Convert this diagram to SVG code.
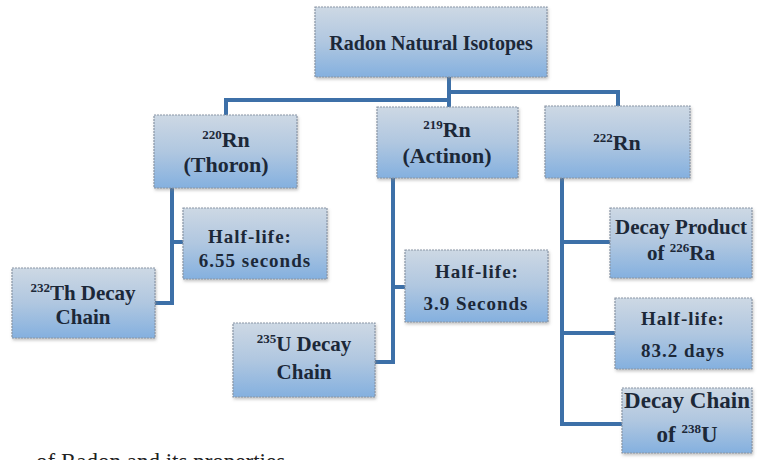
<svg xmlns="http://www.w3.org/2000/svg" width="758" height="460" viewBox="0 0 758 460">
<defs>
<linearGradient id="g" x1="0" y1="0" x2="0" y2="1">
<stop offset="0" stop-color="#cdd8e4"/>
<stop offset="0.5" stop-color="#b0c7e0"/>
<stop offset="1" stop-color="#84b0df"/>
</linearGradient>
<filter id="sh" x="-10%" y="-10%" width="130%" height="140%">
<feDropShadow dx="1" dy="2" stdDeviation="1.5" flood-color="#7a7a7a" flood-opacity="0.45"/>
</filter>
</defs>
<style>
.box{fill:url(#g);stroke:#8a96a6;stroke-width:1.2;stroke-dasharray:2 1;filter:url(#sh)}
.t{font-family:"Liberation Serif","Times New Roman",serif;font-weight:bold;fill:#1c2838;text-anchor:middle}
.c{fill:none;stroke:#3d70a8;stroke-width:4}
.sup{font-size:13px}
</style>
<rect width="758" height="460" fill="#ffffff"/>
<g id="connectors">
<path class="c" d="M449 77 V107"/>
<path class="c" d="M226 115 V100 H449"/>
<path class="c" d="M618 106 V92 H449"/>
<path class="c" d="M172 188 V303 H155 M172 242 H183"/>
<path class="c" d="M393 178 V362 H375 M393 287 H405"/>
<path class="c" d="M562 178 V424 H622 M562 242 H610 M562 333 H615"/>
</g>
<g id="root">
<rect class="box" x="315" y="7" width="232" height="70"/>
<text class="t" x="431" y="50" font-size="20">Radon Natural Isotopes</text>
</g>
<g id="thoron">
<rect class="box" x="154" y="115" width="143" height="73"/>
<text class="t" x="226" y="147" font-size="22"><tspan class="sup" dy="-8">220</tspan><tspan dy="8">Rn</tspan></text>
<text class="t" x="226" y="172" font-size="22">(Thoron)</text>
</g>
<g id="actinon">
<rect class="box" x="377" y="107" width="141" height="71"/>
<text class="t" x="447" y="137" font-size="22"><tspan class="sup" dy="-8">219</tspan><tspan dy="8">Rn</tspan></text>
<text class="t" x="447" y="163" font-size="22">(Actinon)</text>
</g>
<g id="rn222">
<rect class="box" x="545" y="106" width="145" height="72"/>
<text class="t" x="617" y="150" font-size="22"><tspan class="sup" dy="-8">222</tspan><tspan dy="8">Rn</tspan></text>
</g>
<g id="halflife-thoron">
<rect class="box" x="183" y="208" width="144" height="71"/>
<text class="t" x="250" y="243" font-size="19" letter-spacing="1">Half-life:</text>
<text class="t" x="255" y="267" font-size="19" letter-spacing="1">6.55 seconds</text>
</g>
<g id="th232">
<rect class="box" x="12" y="268" width="143" height="70"/>
<text class="t" x="83" y="300" font-size="21"><tspan class="sup" dy="-8">232</tspan><tspan dy="8">Th Decay</tspan></text>
<text class="t" x="83" y="324" font-size="21">Chain</text>
</g>
<g id="halflife-actinon">
<rect class="box" x="405" y="250" width="143" height="72"/>
<text class="t" x="477" y="278" font-size="19" letter-spacing="1">Half-life:</text>
<text class="t" x="476" y="310" font-size="19" letter-spacing="1">3.9 Seconds</text>
</g>
<g id="u235">
<rect class="box" x="233" y="323" width="142" height="74"/>
<text class="t" x="304" y="351" font-size="21"><tspan class="sup" dy="-8">235</tspan><tspan dy="8">U Decay</tspan></text>
<text class="t" x="304" y="379" font-size="21">Chain</text>
</g>
<g id="ra226">
<rect class="box" x="610" y="208" width="142" height="70"/>
<text class="t" x="681" y="234" font-size="21">Decay Product</text>
<text class="t" x="681" y="260" font-size="21">of <tspan class="sup" dy="-8">226</tspan><tspan dy="8">Ra</tspan></text>
</g>
<g id="halflife-rn222">
<rect class="box" x="615" y="298" width="137" height="71"/>
<text class="t" x="683" y="325" font-size="19" letter-spacing="1">Half-life:</text>
<text class="t" x="683" y="357" font-size="19" letter-spacing="1">83.2 days</text>
</g>
<g id="u238">
<rect class="box" x="622" y="388" width="130" height="65"/>
<text class="t" x="687" y="408" font-size="23">Decay Chain</text>
<text class="t" x="687" y="442" font-size="23">of <tspan class="sup" dy="-9">238</tspan><tspan dy="9">U</tspan></text>
</g>
<text x="36" y="469" font-family="Liberation Serif, Times New Roman, serif" font-size="23" fill="#222">of Radon and its properties</text>
</svg>
